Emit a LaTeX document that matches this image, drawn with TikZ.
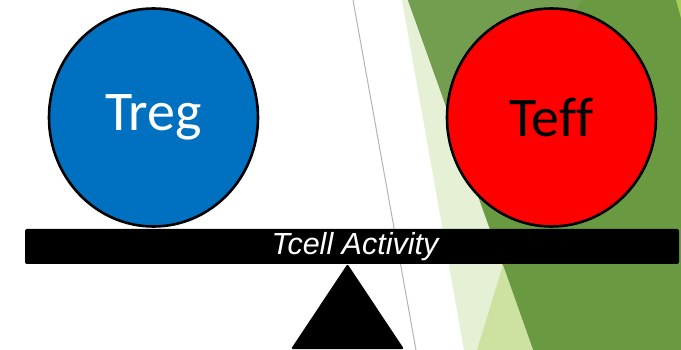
\documentclass[tikz,border=0pt]{standalone}
\usepackage{fontspec}
\newfontfamily\cellfont{Carlito}
\newfontfamily\barfont{Liberation Sans}
\definecolor{tregblue}{RGB}{0, 112, 192}
\definecolor{teffred}{RGB}{255, 0, 0}
\definecolor{palegreen}{RGB}{230, 240, 212}
\definecolor{midgreen}{RGB}{205, 226, 160}
\definecolor{darkgreen}{RGB}{105, 153, 65}
\definecolor{topgreen}{RGB}{115, 158, 79}
\definecolor{limegreen}{RGB}{168, 204, 90}
\definecolor{divgray}{RGB}{180, 180, 180}
\usetikzlibrary{shapes.geometric, positioning}

\begin{document}
\begin{tikzpicture}[x=1pt, y=-1pt,
    cell/.style={ellipse, draw=black, line width=2.6pt, inner sep=0pt,
                 minimum width=209pt, minimum height=218pt,
                 font=\cellfont\fontsize{56}{56}\selectfont},
    beam/.style={rectangle, fill=black, rounded corners=2pt, inner sep=0pt,
                 minimum width=654pt, minimum height=35pt,
                 text=white, font=\barfont\itshape\fontsize{30.5}{30.5}\selectfont}
  ]
    \useasboundingbox (0,0) rectangle (681,350);
    \fill[white] (0,0) rectangle (681,350);

    % background facets
    \fill[palegreen] (402,0) -- (681,0) -- (681,350) -- (464,350) -- cycle;
    \fill[darkgreen] (408,0) -- (681,0) -- (681,350) -- (533,350) -- cycle;
    \fill[topgreen] (408,0) -- (582,0) -- (469,170) -- cycle;
    \fill[midgreen] (503,265) -- (533,350) -- (477,350) -- cycle;
    \fill[limegreen] (676,0) -- (681,0) -- (681,18) -- cycle;
    \draw[divgray, line width=1pt] (353,0) -- (416,350);

    \node[cell, fill=tregblue, text=white] (treg) at (153.5,117.5) {Treg};
    \node[cell, fill=teffred, text=black] (teff) at (551.5,117.5) {Tef\kern0pt f};

    \node[beam] (beam) at (352,246.5) {\hspace{6pt}Tcell Activity};

    \fill[black, rounded corners=1.5pt] (347.5,264) -- (404,349) -- (291,349) -- cycle;
  \end{tikzpicture}
\end{document}
